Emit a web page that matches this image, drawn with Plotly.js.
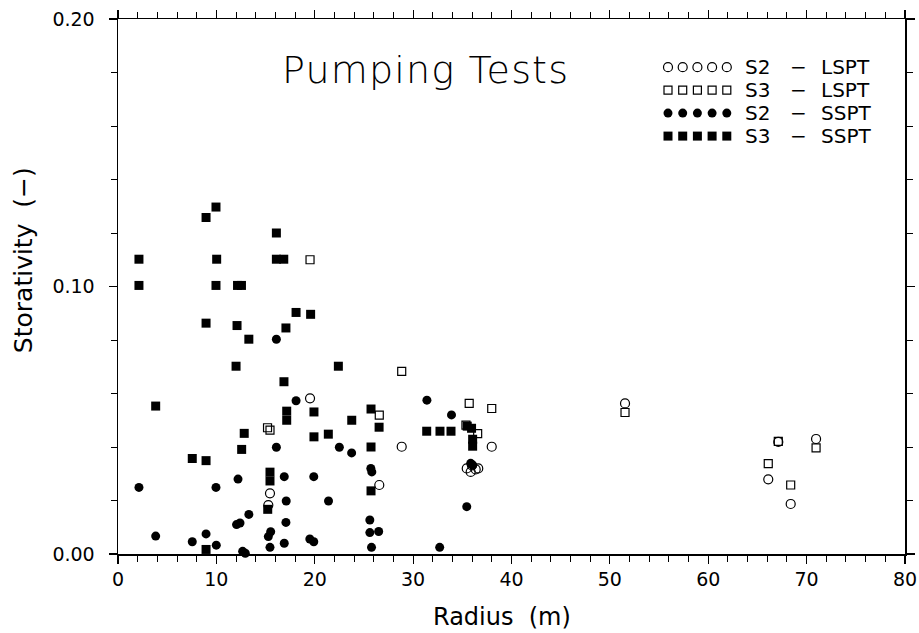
<!DOCTYPE html>
<html><head><meta charset="utf-8">
<script src="https://cdn.plot.ly/plotly-3.0.1.min.js"></script>
<style>body{margin:0;background:#fff}#chart{width:919px;height:633px}</style>
</head><body><div id="chart"></div>
<script>
// S2 - LSPT (open circles)
var s2lsptR = [19.52,15.45,15.28,26.56,28.84,37.99,35.45,35.85,36.36,36.62,35.98,51.54,67.12,70.96,66.10,68.38];
var s2lsptS = [0.0582,0.0227,0.0183,0.0258,0.0401,0.0401,0.0320,0.0307,0.0316,0.0320,0.0331,0.0563,0.0419,0.0430,0.0279,0.0187];
// S3 - LSPT (open squares)
var s3lsptR = [19.52,15.20,15.45,26.56,28.84,35.70,37.99,35.37,36.56,51.54,67.12,70.96,66.10,68.38];
var s3lsptS = [0.110,0.0472,0.0463,0.0519,0.0683,0.0563,0.0544,0.0482,0.0450,0.0529,0.0421,0.0397,0.0338,0.0258];
// S2 - SSPT (filled circles)
var s2ssptR = [2.13,3.83,7.55,8.95,9.99,9.96,12.20,13.30,12.05,12.40,12.67,12.94,16.10,16.10,18.10,16.90,17.10,17.07,16.90,15.28,15.52,15.45,19.90,19.50,19.90,21.40,22.50,23.75,25.70,25.80,25.60,25.60,26.50,25.77,31.40,33.90,35.45,32.70,35.85,36.05];
var s2ssptS = [0.0249,0.0067,0.0046,0.0075,0.0033,0.0249,0.0280,0.0148,0.0110,0.0116,0.0010,0.0003,0.0803,0.0399,0.0573,0.0289,0.0198,0.0118,0.0040,0.0065,0.0083,0.0025,0.0289,0.0056,0.0046,0.0198,0.0399,0.0378,0.0320,0.0307,0.0127,0.0080,0.0084,0.0025,0.0575,0.0520,0.0177,0.0025,0.0339,0.0332];
// S3 - SSPT (filled squares)
var s3ssptR = [2.13,2.13,3.83,7.55,8.95,8.95,8.95,9.96,10.03,9.96,12.0,12.1,13.30,12.15,12.55,12.57,12.83,16.10,16.10,16.85,18.10,19.58,17.07,22.40,16.87,17.15,17.15,19.92,19.92,23.76,21.38,25.72,26.54,25.72,25.72,15.45,15.45,15.22,8.95,31.38,32.73,33.85,35.50,35.94,36.05,36.05];
var s3ssptS = [0.1102,0.1004,0.0553,0.0357,0.0349,0.0863,0.1258,0.1297,0.1102,0.1004,0.0702,0.0854,0.0803,0.1004,0.1004,0.0391,0.0451,0.1200,0.1102,0.1102,0.0903,0.0896,0.0845,0.0702,0.0644,0.0534,0.0500,0.0531,0.0438,0.0500,0.0448,0.0542,0.0474,0.0400,0.0236,0.0306,0.0273,0.0167,0.0017,0.0459,0.0459,0.0459,0.0478,0.0470,0.0429,0.0403];

var seriesNames = ["S2", "S3", "S2", "S3"];
var seriesTests = ["LSPT", "LSPT", "SSPT", "SSPT"];

var FONT = 'DejaVu Sans, Liberation Sans, sans-serif';
var styles = [
  {symbol:'circle-open', size:9, line:{color:'black', width:1.2}, color:'black'},
  {symbol:'square-open', size:8, line:{color:'black', width:1.2}, color:'black'},
  {symbol:'circle', size:9, color:'black'},
  {symbol:'square', size:9, color:'black'}
];
var dataR = [s2lsptR, s3lsptR, s2ssptR, s3ssptR];
var dataS = [s2lsptS, s3lsptS, s2ssptS, s3ssptS];

var traces = [];
for (var k = 3; k >= 0; k--) {
  traces.push({x:dataR[k], y:dataS[k], type:'scatter', mode:'markers', marker:styles[k],
    showlegend:false, hoverinfo:'x+y', cliponaxis:false});
}

// Custom legend (five sample markers per row) drawn on overlay pixel axes
var legX0 = 668, legDX = 14.7, legY0 = 66.7, legDY = 23;
var annotations = [];
for (var k = 0; k < 4; k++) {
  var lx = [], ly = [];
  for (var i = 0; i < 5; i++) { lx.push(legX0 + i*legDX); ly.push(legY0 + k*legDY); }
  traces.push({x:lx, y:ly, xaxis:'x2', yaxis:'y2', type:'scatter', mode:'markers',
    marker:styles[k], showlegend:false, hoverinfo:'skip'});
  var yy = legY0 + k*legDY;
  annotations.push({xref:'x2', yref:'y2', x:743, y:yy, text:seriesNames[k], showarrow:false, xanchor:'left', yanchor:'middle', font:{size:20}});
  annotations.push({xref:'x2', yref:'y2', x:798, y:yy, text:'\u2212', showarrow:false, xanchor:'center', yanchor:'middle', font:{size:20}});
  annotations.push({xref:'x2', yref:'y2', x:819, y:yy, text:seriesTests[k], showarrow:false, xanchor:'left', yanchor:'middle', font:{size:20}});
}
annotations.push({xref:'x2', yref:'y2', x:280, y:70, text:'<span style="letter-spacing:1.2px">Pumping Tests</span>', showarrow:false, xanchor:'left', yanchor:'middle', font:{size:38, weight:200}});
annotations.push({xref:'paper', yref:'paper', x:(502-118)/787, y:(554-617)/535.5, text:'Radius  (m)', showarrow:false, xanchor:'center', yanchor:'middle', font:{size:24}});
annotations.push({xref:'paper', yref:'paper', x:(23-118)/787, y:(554-355)/535.5, text:'Storativity  (\u2212)', showarrow:false, textangle:-90, xanchor:'center', yanchor:'bottom', font:{size:25}});

var layout = {
  width:919, height:633,
  margin:{l:118, r:14, t:18.5, b:79, pad:0},
  paper_bgcolor:'white', plot_bgcolor:'white',
  font:{family:FONT, color:'black', size:19},
  xaxis:{range:[0,80], dtick:10, tick0:0, showgrid:false, zeroline:false,
    showline:true, linecolor:'black', linewidth:1.5, mirror:'ticks',
    ticks:'outside', ticklen:8, tickwidth:1.2, tickcolor:'black',
    minor:{dtick:2, ticks:'outside', ticklen:6, tickwidth:1, tickcolor:'black', showgrid:false},
    ticklabelstandoff:0, tickfont:{size:19}},
  yaxis:{range:[0,0.2], dtick:0.1, tick0:0, tickformat:'.2f', showgrid:false, zeroline:false,
    showline:true, linecolor:'black', linewidth:1.5, mirror:'ticks',
    ticks:'outside', ticklen:8, tickwidth:1.2, tickcolor:'black',
    minor:{dtick:0.02, ticks:'outside', ticklen:6, tickwidth:1, tickcolor:'black', showgrid:false},
    ticklabelstandoff:10, tickfont:{size:19}},
  xaxis2:{overlaying:'x', range:[118,905], visible:false, fixedrange:true},
  yaxis2:{overlaying:'y', range:[554,18.5], visible:false, fixedrange:true},
  annotations:annotations
};
Plotly.newPlot('chart', traces, layout, {displayModeBar:false, staticPlot:true});
</script></body></html>
